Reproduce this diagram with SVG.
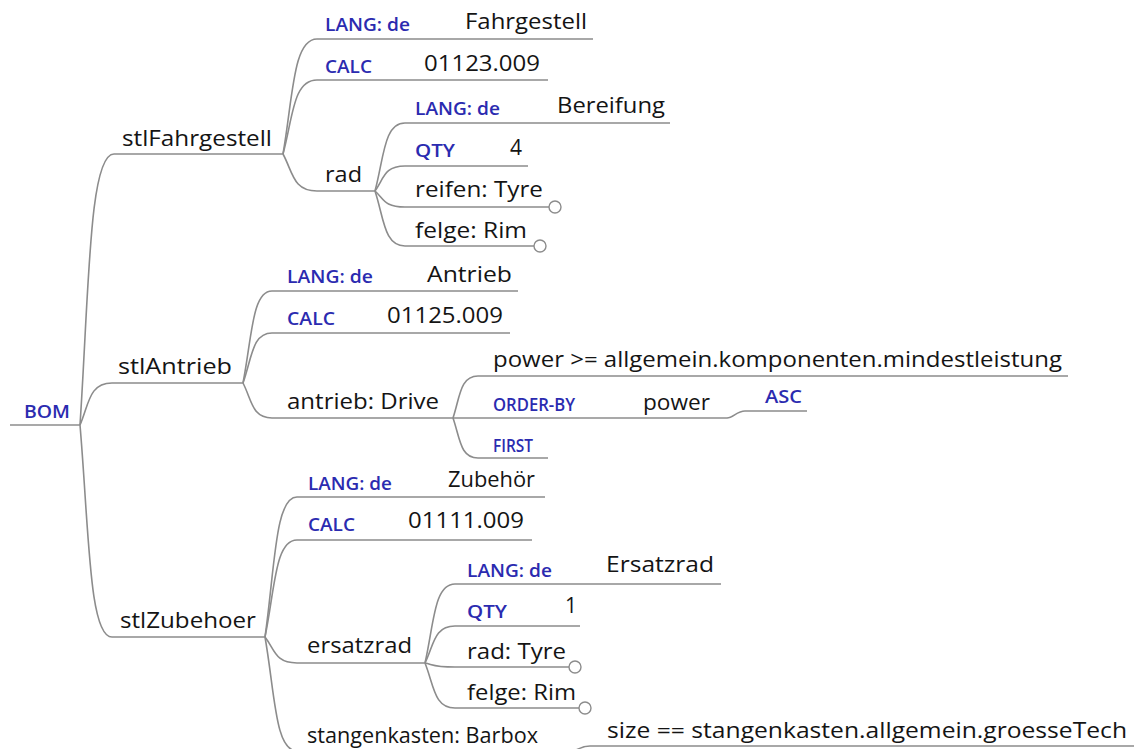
<svg xmlns="http://www.w3.org/2000/svg" width="1134" height="749" viewBox="0 0 1134 749">
  <style>
    .link { fill: none; stroke: #8c8c8c; stroke-width: 1.6; }
    .end { fill: #ffffff; stroke: #8c8c8c; stroke-width: 1.4; }
    .t { font-family: "Open Sans", "Noto Sans", sans-serif; font-size: 21px; fill: #141414; }
    .k { font-family: "Open Sans", "Noto Sans", sans-serif; font-size: 17.5px; font-weight: 600; fill: #2b2bb0; }
  </style>
  <rect width="1134" height="749" fill="#ffffff"/>

  <!-- branch curves with their underlines -->
  <g id="connectors">
    <path class="link" d="M10 425 H80"/>
    <path class="link" d="M80 425 C89 289.5 89 154 114 154 H283"/>
    <path class="link" d="M80 425 C89 404 89 383 112 383 H243"/>
    <path class="link" d="M80 425 C89 531 89 637 112 637 H265"/>

    <path class="link" d="M283 154 C293 96.5 293 39 317 39 H593"/>
    <path class="link" d="M283 154 C293 117 293 80 317 80 H548"/>
    <path class="link" d="M283 154 C293 172.5 293 191 317 191 H375"/>

    <path class="link" d="M375 191 C384 157 384 123 405 123 H670"/>
    <path class="link" d="M375 191 C384 178.5 384 166 405 166 H528"/>
    <path class="link" d="M375 191 C384 199 384 207 405 207 H549"/>
    <path class="link" d="M375 191 C384 218.5 384 246 405 246 H534"/>

    <path class="link" d="M243 383 C252 337 252 291 272 291 H518"/>
    <path class="link" d="M243 383 C252 358 252 333 272 333 H510"/>
    <path class="link" d="M243 383 C252 400.5 252 418 272 418 H453"/>

    <path class="link" d="M453 418 C460 397 460 376 478 376 H1068"/>
    <path class="link" d="M453 418 H727"/>
    <path class="link" d="M453 418 C460 438 460 458 478 458 H548"/>
    <path class="link" d="M727 418 C733 418 737 411 745 411 H807"/>

    <path class="link" d="M265 637 C275 567 275 497 297 497 H545"/>
    <path class="link" d="M265 637 C275 588.5 275 540 297 540 H532"/>
    <path class="link" d="M265 637 C275 650 275 663 297 663 H425"/>
    <path class="link" d="M265 637 C275 694 275 751 297 751 H572"/>

    <path class="link" d="M425 663 C434 623.5 434 584 455 584 H721"/>
    <path class="link" d="M425 663 C434 644.5 434 626 455 626 H580"/>
    <path class="link" d="M425 663 C434 665 434 667 455 667 H569"/>
    <path class="link" d="M425 663 C434 685.5 434 708 455 708 H579"/>

    <path class="link" d="M572 751 C577 751 580 746 590 746 H1134"/>
  </g>

  <g id="bom"><text class="k" x="24" y="418" textLength="46" lengthAdjust="spacingAndGlyphs">BOM</text></g>

  <g id="stlFahrgestell"><text class="t" x="122" y="146" textLength="150" lengthAdjust="spacingAndGlyphs">stlFahrgestell</text></g>
  <g id="fg-lang"><text class="k" x="325" y="31" textLength="85" lengthAdjust="spacingAndGlyphs">LANG: de</text><text class="t" x="465" y="29" textLength="122" lengthAdjust="spacingAndGlyphs">Fahrgestell</text></g>
  <g id="fg-calc"><text class="k" x="325" y="73" textLength="47" lengthAdjust="spacingAndGlyphs">CALC</text><text class="t" x="424" y="71" textLength="116" lengthAdjust="spacingAndGlyphs">01123.009</text></g>
  <g id="rad"><text class="t" x="325" y="182" textLength="37" lengthAdjust="spacingAndGlyphs">rad</text></g>
  <g id="rad-lang"><text class="k" x="415" y="115" textLength="85" lengthAdjust="spacingAndGlyphs">LANG: de</text><text class="t" x="557" y="113" textLength="108" lengthAdjust="spacingAndGlyphs">Bereifung</text></g>
  <g id="rad-qty"><text class="k" x="415" y="157" textLength="40" lengthAdjust="spacingAndGlyphs">QTY</text><text class="t" x="510" y="155">4</text></g>
  <g id="rad-reifen"><text class="t" x="415" y="197" textLength="128" lengthAdjust="spacingAndGlyphs">reifen: Tyre</text><circle class="end" cx="555" cy="207" r="6"/></g>
  <g id="rad-felge"><text class="t" x="415" y="238" textLength="112" lengthAdjust="spacingAndGlyphs">felge: Rim</text><circle class="end" cx="540" cy="246" r="6"/></g>

  <g id="stlAntrieb"><text class="t" x="118" y="374" textLength="114" lengthAdjust="spacingAndGlyphs">stlAntrieb</text></g>
  <g id="an-lang"><text class="k" x="287" y="283" textLength="86" lengthAdjust="spacingAndGlyphs">LANG: de</text><text class="t" x="427" y="282" textLength="85" lengthAdjust="spacingAndGlyphs">Antrieb</text></g>
  <g id="an-calc"><text class="k" x="287" y="325" textLength="48" lengthAdjust="spacingAndGlyphs">CALC</text><text class="t" x="387" y="323" textLength="116" lengthAdjust="spacingAndGlyphs">01125.009</text></g>
  <g id="antrieb"><text class="t" x="287" y="409" textLength="152" lengthAdjust="spacingAndGlyphs">antrieb: Drive</text></g>
  <g id="an-filter"><text class="t" x="493" y="367" textLength="569" lengthAdjust="spacingAndGlyphs">power &gt;= allgemein.komponenten.mindestleistung</text></g>
  <g id="an-order"><text class="k" x="493" y="411" textLength="82" lengthAdjust="spacingAndGlyphs">ORDER-BY</text><text class="t" x="643" y="410" textLength="67" lengthAdjust="spacingAndGlyphs">power</text></g>
  <g id="an-asc"><text class="k" x="765" y="403" textLength="37" lengthAdjust="spacingAndGlyphs">ASC</text></g>
  <g id="an-first"><text class="k" x="493" y="452" textLength="40" lengthAdjust="spacingAndGlyphs">FIRST</text></g>

  <g id="stlZubehoer"><text class="t" x="120" y="628" textLength="136" lengthAdjust="spacingAndGlyphs">stlZubehoer</text></g>
  <g id="zb-lang"><text class="k" x="308" y="490" textLength="84" lengthAdjust="spacingAndGlyphs">LANG: de</text><text class="t" x="448" y="487" textLength="87" lengthAdjust="spacingAndGlyphs">Zubehör</text></g>
  <g id="zb-calc"><text class="k" x="308" y="531" textLength="47" lengthAdjust="spacingAndGlyphs">CALC</text><text class="t" x="408" y="528" textLength="116" lengthAdjust="spacingAndGlyphs">01111.009</text></g>
  <g id="ersatzrad"><text class="t" x="307" y="653" textLength="105" lengthAdjust="spacingAndGlyphs">ersatzrad</text></g>
  <g id="er-lang"><text class="k" x="467" y="577" textLength="85" lengthAdjust="spacingAndGlyphs">LANG: de</text><text class="t" x="606" y="572" textLength="108" lengthAdjust="spacingAndGlyphs">Ersatzrad</text></g>
  <g id="er-qty"><text class="k" x="467" y="618" textLength="40" lengthAdjust="spacingAndGlyphs">QTY</text><text class="t" x="565" y="613">1</text></g>
  <g id="er-rad"><text class="t" x="467" y="659" textLength="99" lengthAdjust="spacingAndGlyphs">rad: Tyre</text><circle class="end" cx="575" cy="667" r="6"/></g>
  <g id="er-felge"><text class="t" x="467" y="700" textLength="109" lengthAdjust="spacingAndGlyphs">felge: Rim</text><circle class="end" cx="585" cy="708" r="6"/></g>
  <g id="stangenkasten"><text class="t" x="307" y="743" textLength="231" lengthAdjust="spacingAndGlyphs">stangenkasten: Barbox</text></g>
  <g id="sk-filter"><text class="t" x="607" y="738" textLength="520" lengthAdjust="spacingAndGlyphs">size == stangenkasten.allgemein.groesseTech</text></g>
</svg>
